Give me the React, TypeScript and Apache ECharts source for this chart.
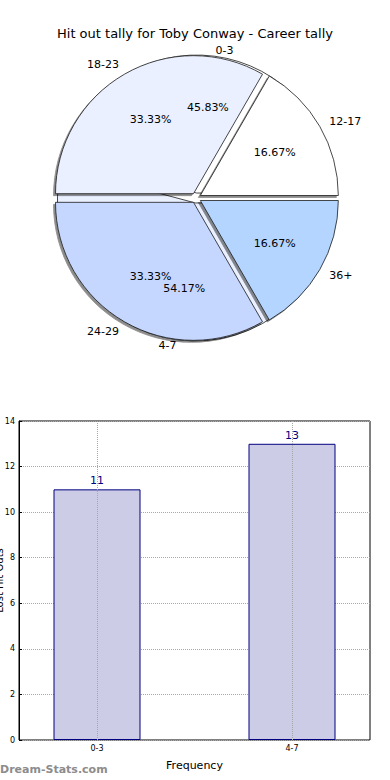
import React, { useEffect, useRef } from 'react';
import * as echarts from 'echarts';

const chartTitle = 'Hit out tally for Toby Conway - Career tally';
const innerCategories = ['0-3', '4-7'];
const innerValues = [11, 13];
const innerColors = ['#ffffff', '#eaf0ff'];
const outerCategories = ['12-17', '18-23', '24-29', '36+'];
const outerValues = [4, 8, 8, 4];
const outerColors = ['#ffffff', '#eaf0ff', '#c5d7ff', '#b3d5ff'];
const barCategories = ['0-3', '4-7'];
const barValues = [11, 13];
const xAxisTitle = 'Frequency';
const yAxisTitle = 'Lost Hit Outs';
const watermarkText = 'Dream-Stats.com';

const FONT = 'DejaVu Sans';
const R = 138;
const CENTER = [196, 198];
const EXPLODE = 5;
const LABEL_SHIFT = 18;

// side of each slice (matplotlib aligns labels left on the right half, right on the left half)
function sides(vals: number[]) {
  const total = vals.reduce((a, b) => a + b, 0);
  let acc = 0;
  return vals.map((v) => {
    const mid = ((acc + v / 2) / total) * 2 * Math.PI;
    acc += v;
    return Math.cos(mid) >= 0 ? 'right' : 'left';
  });
}

function piePart(cats: string[], vals: number[], colors: string[], z: number, shadow: boolean, showLabel: boolean) {
  return {
    type: 'pie',
    center: CENTER,
    radius: [0, R],
    startAngle: 0,
    clockwise: false,
    selectedMode: 'multiple',
    selectedOffset: EXPLODE,
    avoidLabelOverlap: false,
    z,
    data: cats.map((c, i) => ({ name: c, value: vals[i], selected: true, itemStyle: { color: colors[i] } })),
    itemStyle: {
      borderColor: '#1a1a1a',
      borderWidth: 0.8,
      shadowColor: shadow ? 'rgba(0,0,0,0.45)' : 'rgba(0,0,0,0)',
      shadowOffsetX: shadow ? -2 : 0,
      shadowOffsetY: shadow ? 2 : 0,
      shadowBlur: 0,
    },
    select: { itemStyle: { borderColor: '#1a1a1a', borderWidth: 0.8 } },
    label: {
      show: showLabel,
      position: 'outside',
      color: '#000',
      fontSize: 11,
      fontFamily: FONT,
      distanceToLabelLine: 0,
    },
    labelLine: { show: false, length: 11, length2: 0 },
    labelLayout: { hideOverlap: false },
    emphasis: { disabled: true },
  };
}

function ringLabels(cats: string[], vals: number[], r0: number, r1: number, z: number, pct: boolean, shift: boolean) {
  const s = sides(vals);
  return {
    type: 'pie',
    center: CENTER,
    radius: [r0, r1],
    startAngle: 0,
    clockwise: false,
    selectedMode: 'multiple',
    selectedOffset: EXPLODE,
    avoidLabelOverlap: false,
    silent: true,
    z,
    data: cats.map((c, i) => ({
      name: c,
      value: vals[i],
      selected: true,
      label: shift
        ? { padding: s[i] === 'right' ? [0, 0, 0, LABEL_SHIFT] : [0, LABEL_SHIFT, 0, 0] }
        : undefined,
    })),
    itemStyle: { color: 'rgba(0,0,0,0)', borderWidth: 0 },
    select: { itemStyle: { color: 'rgba(0,0,0,0)', borderWidth: 0 } },
    label: {
      show: true,
      position: 'inside',
      formatter: pct ? '{d}%' : '{b}',
      color: '#000',
      fontSize: 11,
      fontFamily: FONT,
    },
    labelLine: { show: false },
    labelLayout: { hideOverlap: false },
    emphasis: { disabled: true },
  };
}

export default function App() {
  const ref = useRef<HTMLDivElement>(null);
  useEffect(() => {
    if (!ref.current) return;
    const chart = echarts.init(ref.current, undefined, { renderer: 'svg' });
    chart.setOption({
      animation: false,
      backgroundColor: '#ffffff',
      title: {
        text: chartTitle,
        left: 'center',
        top: 22,
        textStyle: { fontSize: 13, fontWeight: 'normal', color: '#000', fontFamily: FONT },
      },
      grid: {
        left: 19,
        right: 20,
        top: 421,
        bottom: 40,
        show: true,
        borderColor: '#000',
        borderWidth: 1,
        backgroundColor: 'rgba(0,0,0,0)',
        containLabel: false,
        outerBoundsMode: 'none',
      },
      xAxis: {
        type: 'value',
        min: -0.4,
        max: 1.4,
        axisLine: { show: false, onZero: false },
        splitLine: { show: false },
        axisTick: { show: true, inside: true, length: 3, customValues: [0, 1], lineStyle: { color: '#000' } },
        axisLabel: {
          customValues: [0, 1],
          formatter: (v: number) => barCategories[Math.round(v)] ?? '',
          fontSize: 8,
          color: '#000',
          margin: 4,
          fontFamily: FONT,
        },
        name: xAxisTitle,
        nameLocation: 'middle',
        nameGap: 20,
        nameMoveOverlap: false,
        nameTextStyle: { fontSize: 11, color: '#000', fontFamily: FONT },
      },
      yAxis: {
        type: 'value',
        min: 0,
        max: 14,
        interval: 2,
        axisLine: { show: true, onZero: false, lineStyle: { color: '#000' } },
        axisTick: { show: true, inside: true, length: 3, lineStyle: { color: '#000' } },
        axisLabel: { fontSize: 8, color: '#000', margin: 4, fontFamily: FONT },
        splitLine: { show: true, lineStyle: { type: 'dotted', color: '#a8a8a8', width: 1 } },
        name: yAxisTitle,
        nameLocation: 'middle',
        nameGap: 15,
        nameMoveOverlap: false,
        nameRotate: 90,
        nameTextStyle: { fontSize: 10, color: '#000', fontFamily: FONT },
      },
      series: [
        piePart(innerCategories, innerValues, innerColors, 1, false, false),
        piePart(outerCategories, outerValues, outerColors, 2, true, true),
        ringLabels(outerCategories, outerValues, R * 0.2, R, 3, true, false),
        ringLabels(innerCategories, innerValues, R * 0.2, R, 3, true, false),
        ringLabels(innerCategories, innerValues, R * 0.98, R * 1.06, 3, false, true),
        {
          type: 'bar',
          data: barValues.map((v, i) => [i, v]),
          barWidth: 87,
          itemStyle: { color: '#ccccE6', borderColor: '#000080', borderWidth: 1 },
          label: { show: true, position: 'top', color: '#000080', fontSize: 11, distance: 3, fontFamily: FONT },
          emphasis: { disabled: true },
          markLine: {
            silent: true,
            symbol: 'none',
            label: { show: false },
            lineStyle: { type: 'dotted', color: '#a8a8a8', width: 1 },
            data: barCategories.map((_, i) => ({ xAxis: i })),
          },
        },
      ],
      graphic: [
        {
          type: 'text',
          left: 0,
          top: 764,
          style: { text: watermarkText, fill: '#8c8c8c', font: `bold 11px "${FONT}"` },
        },
      ],
    });
    return () => chart.dispose();
  }, []);
  return <div ref={ref} style={{ position: 'fixed', left: 0, top: 0, width: 390, height: 780 }} />;
}
